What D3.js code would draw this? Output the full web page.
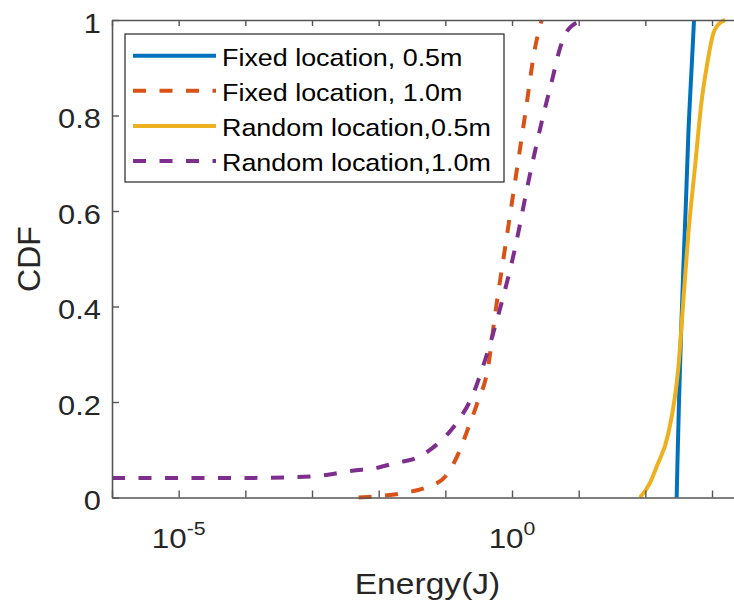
<!DOCTYPE html>
<html>
<head>
<meta charset="utf-8">
<script src="https://cdn.jsdelivr.net/npm/d3@7"></script>
<style>
  html, body { margin: 0; padding: 0; background: #fff; }
  svg { display: block; }
</style>
</head>
<body>
<svg id="chart" width="734" height="601"></svg>
<script>
// ---------------- data ----------------
const seriesNames = ["Fixed location, 0.5m", "Fixed location, 1.0m", "Random location,0.5m", "Random location,1.0m"];
const seriesColors = ["#0072BD", "#D95319", "#EDB120", "#7E2F8E"];
const seriesDashed = [false, true, false, true];

// [energy (J), CDF]
const fixedLoc05 = [
  [295, 0], [302, 0.065], [320, 0.204], [343, 0.344], [372, 0.483],
  [407, 0.623], [442, 0.763], [495, 0.902], [537, 1.0]
];
const fixedLoc10 = [
  [5.0e-3, 0], [1.0e-2, 0.003], [2.5e-2, 0.010], [5.6e-2, 0.023], [0.10, 0.044],
  [0.158, 0.093], [0.224, 0.148], [0.295, 0.194], [0.442, 0.277], [0.556, 0.382],
  [0.785, 0.522], [1.11, 0.661], [1.57, 0.801], [2.21, 0.941], [2.79, 1.0]
];
const randomLoc05 = [
  [83, 0], [117, 0.030], [148, 0.065], [221, 0.134], [313, 0.274], [372, 0.414],
  [442, 0.553], [556, 0.693], [700, 0.832], [832, 0.902], [1047, 0.972],
  [1230, 0.990], [1567, 1.0]
];
const randomLoc10 = [
  [1.0e-6, 0.041], [1.0e-4, 0.041], [1.0e-3, 0.044], [4.0e-3, 0.056], [1.0e-2, 0.063],
  [1.76e-2, 0.072], [4.0e-2, 0.085], [6.3e-2, 0.103], [9.9e-2, 0.127], [0.158, 0.162],
  [0.251, 0.211], [0.372, 0.277], [0.622, 0.382], [1.11, 0.522], [1.76, 0.661],
  [2.95, 0.801], [3.94, 0.871], [5.25, 0.941], [6.61, 0.976], [11.6, 1.0]
];
const allSeries = [fixedLoc05, fixedLoc10, randomLoc05, randomLoc10];

const xDomain = [1e-6, 1e4];
const xTickValues = [1e-6, 1e-5, 1e-4, 1e-3, 1e-2, 1e-1, 1e0, 1e1, 1e2, 1e3, 1e4];
const xTickLabels = [{v: 1e-5, base: "10", exp: "-5"}, {v: 1e0, base: "10", exp: "0"}];
const yTickValues = [0, 0.2, 0.4, 0.6, 0.8, 1];
const yTickLabels = ["0", "0.2", "0.4", "0.6", "0.8", "1"];
const xLabel = "Energy(J)";
const yLabel = "CDF";

// ---------------- layout ----------------
const FONT = "'Liberation Sans', Arial, Helvetica, sans-serif";
const TEXT = "#262626";
const AXIS = "#555555";
const SX = 1.12; // horizontal glyph stretch of the original rendering
const pLeft = 112, pRight = 112 + 666.7, pTop = 20, pBottom = 497.5;

const svg = d3.select("#chart");
const x = d3.scaleLog().domain(xDomain).range([pLeft, pRight]);
const y = d3.scaleLinear().domain([0, 1]).range([pBottom, pTop]);

svg.append("defs").append("clipPath").attr("id", "plotclip")
  .append("rect").attr("x", pLeft).attr("y", pTop - 5).attr("width", pRight - pLeft).attr("height", pBottom - pTop + 10);

// ---------------- series ----------------
const line = d3.line()
  .x(d => x(d[0]))
  .y(d => y(d[1]))
  .curve(d3.curveMonotoneX);

const plot = svg.append("g").attr("clip-path", "url(#plotclip)");
allSeries.forEach((s, i) => {
  plot.append("path")
    .datum(s)
    .attr("d", line)
    .attr("fill", "none")
    .attr("stroke", seriesColors[i])
    .attr("stroke-width", 4)
    .attr("stroke-linejoin", "round")
    .attr("stroke-dasharray", seriesDashed[i] ? "13,13.5" : null);
});

// ---------------- axes ----------------
const xAxisG = svg.append("g")
  .attr("transform", `translate(0,${pBottom})`)
  .call(d3.axisBottom(x).tickValues(xTickValues).tickFormat("").tickSizeInner(-7).tickSizeOuter(0));
const xTopG = svg.append("g")
  .attr("transform", `translate(0,${pTop})`)
  .call(d3.axisTop(x).tickValues(xTickValues).tickFormat("").tickSizeInner(-6).tickSizeOuter(0));
const yAxisG = svg.append("g")
  .attr("transform", `translate(${pLeft},0)`)
  .call(d3.axisLeft(y).tickValues(yTickValues).tickFormat((d, i) => yTickLabels[i]).tickSizeInner(-7).tickSizeOuter(0).tickPadding(10));

[xAxisG, xTopG, yAxisG].forEach(g => {
  g.select(".domain").attr("stroke", AXIS).attr("stroke-width", 1.6);
  g.selectAll(".tick line").attr("stroke", AXIS).attr("stroke-width", 1.4);
});

yAxisG.selectAll(".tick text")
  .attr("font-family", FONT)
  .attr("font-size", 27.5)
  .attr("fill", TEXT)
  .attr("dy", "0.44em")
  .attr("transform", `scale(${SX},1)`);

// x tick labels with superscripts
xTickLabels.forEach(t => {
  const g = svg.append("g").attr("transform", `translate(${x(t.v)},548) scale(${SX},1)`);
  const txt = g.append("text")
    .attr("text-anchor", "middle")
    .attr("font-family", FONT)
    .attr("fill", TEXT);
  txt.append("tspan").attr("font-size", 28).text(t.base);
  txt.append("tspan").attr("font-size", 19).attr("dy", -13).text(t.exp);
});

// axis labels
svg.append("g").attr("transform", `translate(427.5,593.5) scale(${SX},1)`)
  .append("text")
  .attr("text-anchor", "middle")
  .attr("font-family", FONT)
  .attr("font-size", 30)
  .attr("fill", TEXT)
  .text(xLabel);

svg.append("text")
  .attr("transform", "translate(40,259) rotate(-90)")
  .attr("text-anchor", "middle")
  .attr("font-family", FONT)
  .attr("font-size", 32)
  .attr("fill", TEXT)
  .text(yLabel);

// ---------------- legend ----------------
const legend = svg.append("g");
legend.append("rect")
  .attr("x", 125).attr("y", 34).attr("width", 379).attr("height", 148)
  .attr("fill", "#fff").attr("stroke", TEXT).attr("stroke-width", 1.2);
seriesNames.forEach((name, i) => {
  const ly = 55.7 + i * 35.1;
  legend.append("line")
    .attr("x1", 133).attr("x2", 216).attr("y1", ly).attr("y2", ly)
    .attr("stroke", seriesColors[i]).attr("stroke-width", 4)
    .attr("stroke-dasharray", seriesDashed[i] ? "13,13.5" : null);
  legend.append("g").attr("transform", `translate(222,${ly + 10}) scale(${SX},1)`)
    .append("text")
    .attr("font-family", FONT)
    .attr("font-size", 24)
    .attr("fill", "#000")
    .text(name);
});
</script>
</body>
</html>
